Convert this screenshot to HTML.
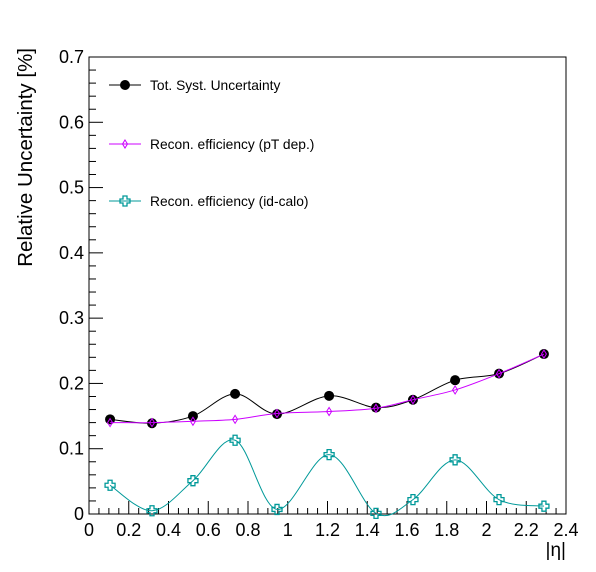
<!DOCTYPE html>
<html><head><meta charset="utf-8"><style>
html,body{margin:0;padding:0;background:#fff;}
svg{display:block;font-family:"Liberation Sans",sans-serif;}
</style></head><body>
<svg id="chart" width="596" height="572"></svg>
<script>
const etaBins=[0.106,0.317,0.523,0.735,0.946,1.208,1.444,1.630,1.842,2.063,2.289];
const totSyst=[0.145,0.139,0.150,0.184,0.153,0.181,0.163,0.175,0.205,0.215,0.245];
const reconPt=[0.140,0.140,0.142,0.145,0.154,0.157,0.162,0.175,0.190,0.215,0.245];
const reconIdCalo=[0.044,0.005,0.051,0.113,0.007,0.091,0.001,0.022,0.083,0.022,0.012];
const xTicks=[0,0.2,0.4,0.6,0.8,1,1.2,1.4,1.6,1.8,2,2.2,2.4];
const yTicks=[0,0.1,0.2,0.3,0.4,0.5,0.6,0.7];

const L=89,R=566,T=57,B=514;
const X=v=>L+(v/2.4)*(R-L);
const Y=v=>B-(v/0.7)*(B-T);
const NS="http://www.w3.org/2000/svg";
const svg=document.getElementById('chart');
function mk(tag,attrs,parent){const e=document.createElementNS(NS,tag);for(const k in attrs)e.setAttribute(k,attrs[k]);(parent||svg).appendChild(e);return e;}

const frame=mk('rect',{x:L,y:T,width:R-L,height:B-T,fill:'none',stroke:'#000','stroke-width':1});



for(let i=0;i<=48;i++){const v=i*0.05;const major=i%4===0;
 const t=mk('line',{x1:X(v),x2:X(v),y1:B,y2:B-(major?13:6),stroke:'#000'});
 
 }
xTicks.forEach(v=>{const t=mk('text',{x:X(v),y:B+22,'font-size':18,'text-anchor':'middle'});t.textContent=String(v);
 
 });
for(let i=0;i<=35;i++){const v=i*0.02;const major=i%5===0;
 const t=mk('line',{x1:L,x2:L+(major?14:7),y1:Y(v),y2:Y(v),stroke:'#000'});
 
 }
yTicks.forEach(v=>{const t=mk('text',{x:L-5,y:Y(v)+6,'font-size':18,'text-anchor':'end'});t.textContent=String(v);
 
 });

const yt=mk('text',{x:0,y:0,'font-size':20.5,'text-anchor':'end',transform:'translate(32,48) rotate(-90)'});
yt.textContent='Relative Uncertainty [%]';


const xt=mk('text',{x:566,y:556,'font-size':19,'text-anchor':'end'});
xt.textContent='|η|';



function spline(vals){
 const p=etaBins.map((e,i)=>[X(e),Y(vals[i])]);
 let d=`M${p[0][0]},${p[0][1]}`;
 for(let i=0;i<p.length-1;i++){
  const p0=p[Math.max(i-1,0)],p1=p[i],p2=p[i+1],p3=p[Math.min(i+2,p.length-1)];
  const c1=[p1[0]+(p2[0]-p0[0])/6,p1[1]+(p2[1]-p0[1])/6];
  const c2=[p2[0]-(p3[0]-p1[0])/6,p2[1]-(p3[1]-p1[1])/6];
  d+=` C${c1[0]},${c1[1]} ${c2[0]},${c2[1]} ${p2[0]},${p2[1]}`;
 }
 return d;
}
function marker(type,cx,cy,color,g){
 if(type==='circle')return mk('circle',{cx,cy,r:5,fill:color},g);
 if(type==='diamond')return mk('path',{d:`M${cx},${cy-4} L${cx+2.5},${cy} L${cx},${cy+4} L${cx-2.5},${cy} Z`,fill:'none',stroke:color,'stroke-width':1},g);
 const s=2,l=5;
 return mk('path',{d:`M${cx-s},${cy-l} H${cx+s} V${cy-s} H${cx+l} V${cy+s} H${cx+s} V${cy+l} H${cx-s} V${cy+s} H${cx-l} V${cy-s} H${cx-s} Z`,fill:'none',stroke:color,'stroke-width':1.3},g);
}
const series=[
 {vals:totSyst,color:'#000',type:'circle',name:'tot-syst',label:'Tot. Syst. Uncertainty',ly:85},
 {vals:reconPt,color:'#cc00ff',type:'diamond',name:'recon-pt',label:'Recon. efficiency (pT dep.)',ly:144},
 {vals:reconIdCalo,color:'#009999',type:'cross',name:'recon-id-calo',label:'Recon. efficiency (id-calo)',ly:201}
];
series.forEach(s=>{
 const g=mk('g',{});
 
 
 const path=mk('path',{d:spline(s.vals),fill:'none',stroke:s.color,'stroke-width':1},g);
 
 
 s.vals.forEach((v,i)=>{const m=marker(s.type,X(etaBins[i]),Y(v),s.color,g);
  
  });
 const lg=mk('g',{});
 
 
 mk('line',{x1:109,x2:141,y1:s.ly,y2:s.ly,stroke:s.color},lg);
 marker(s.type,125,s.ly,s.color,lg);
 const t=mk('text',{x:150,y:s.ly+5,'font-size':13.8},lg);t.textContent=s.label;
});
</script>
</body></html>
